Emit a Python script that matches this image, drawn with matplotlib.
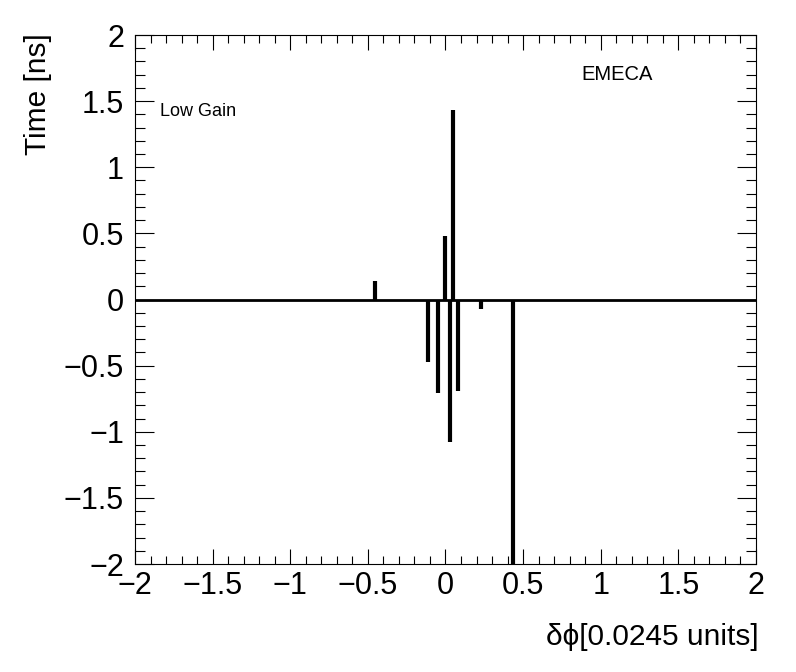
import numpy as np
import matplotlib
matplotlib.use("Agg")
import matplotlib.pyplot as plt
from matplotlib.ticker import MultipleLocator

plt.rcParams['font.family'] = ['Liberation Sans', 'DejaVu Sans']
plt.rcParams['axes.unicode_minus'] = True

# delta phi positions and time offsets
dphi = [-0.455, -0.115, -0.045, 0.0, 0.027, 0.048, 0.078, 0.232, 0.435]
dtime = [0.14, -0.47, -0.71, 0.48, -1.08, 1.43, -0.69, -0.07, -2.5]

fig = plt.figure(figsize=(7.96, 6.72), dpi=100)
ax = fig.add_axes([0.1696, 0.1607, 0.7801, 0.7872])

ax.axhline(0, color="black", lw=2.0, zorder=2)
ax.vlines(dphi, 0, dtime, color="black", lw=3.0, zorder=3)

ax.set_xlim(-2, 2)
ax.set_ylim(-2, 2)
ax.xaxis.set_major_locator(MultipleLocator(0.5))
ax.xaxis.set_minor_locator(MultipleLocator(0.1))
ax.yaxis.set_major_locator(MultipleLocator(0.5))
ax.yaxis.set_minor_locator(MultipleLocator(0.1))

ax.tick_params(axis="both", which="both", direction="in", top=True, right=True,
               width=0.8, labelsize=22)
ax.tick_params(axis="x", which="major", length=11, pad=5)
ax.tick_params(axis="x", which="minor", length=6)
ax.tick_params(axis="y", which="major", length=14, pad=8)
ax.tick_params(axis="y", which="minor", length=7)

ax.set_xticklabels([f"{v:g}".replace("-", "\u2212") for v in ax.get_xticks()])
ax.set_yticklabels([f"{v:g}".replace("-", "\u2212") for v in ax.get_yticks()])

for s in ax.spines.values():
    s.set_linewidth(0.8)

fig.text(0.953, 0.052, "\u03b4\u03d5[0.0245 units]", ha="right", va="center", fontsize=21.5)
fig.text(0.048, 0.951, "Time [ns]", ha="center", va="top", rotation=90, fontsize=21.5)

ax.text(0.04, 0.856, "Low Gain", transform=ax.transAxes, fontsize=13, va="center")
ax.text(0.719, 0.925, "EMECA", transform=ax.transAxes, fontsize=14.5, va="center")

fig.savefig("out.png", dpi=100)
